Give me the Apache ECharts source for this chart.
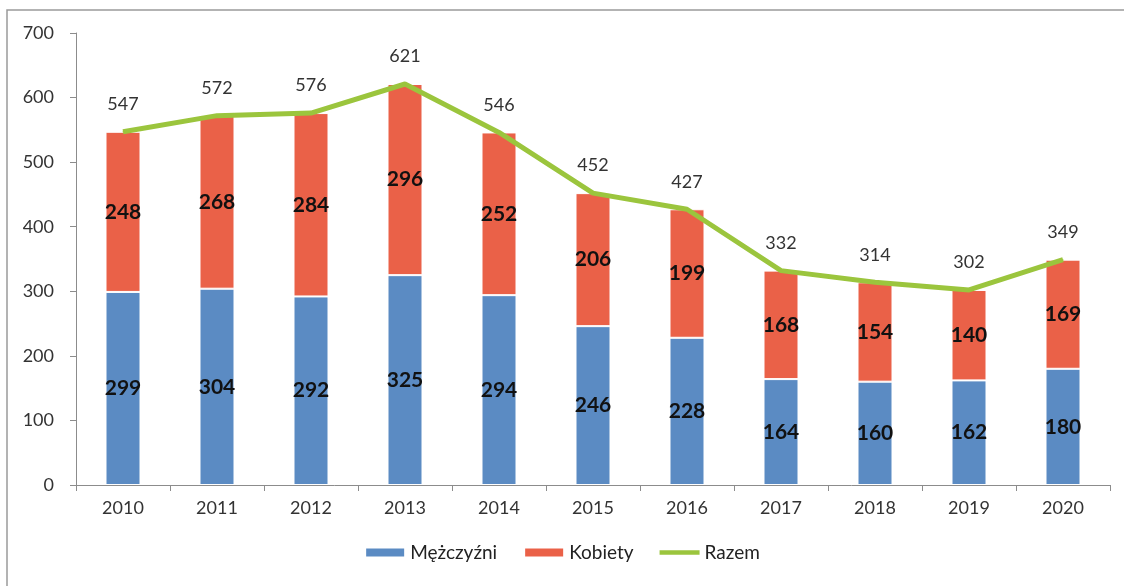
<!DOCTYPE html>
<html>
<head>
<meta charset="utf-8">
<script src="https://cdn.jsdelivr.net/npm/echarts@6/dist/echarts.min.js"></script>
<style>
html,body{margin:0;padding:0;background:#fff;}
#chart{width:1124px;height:586px;}
</style>
</head>
<body>
<div id="chart"></div>
<script>
const years = ['2010','2011','2012','2013','2014','2015','2016','2017','2018','2019','2020'];
const men = [299,304,292,325,294,246,228,164,160,162,180];
const women = [248,268,284,296,252,206,199,168,154,140,169];
const total = [547,572,576,621,546,452,427,332,314,302,349];
const yTicks = [0,100,200,300,400,500,600,700];

const FONT = 'Lato';
const chart = echarts.init(document.getElementById('chart'));
const barLabel = {
  show: true, position: 'inside', color: '#111', fontWeight: 'bold',
  fontSize: 21, fontFamily: FONT
};
chart.setOption({
  animation: false,
  backgroundColor: '#fff',
  graphic: [{
    type: 'rect', shape: { x: 7, y: 10, width: 1140, height: 600 },
    style: { fill: 'none', stroke: '#9a9a9a', lineWidth: 1.5 }, silent: true, z: -1
  }],
  grid: { left: 76, right: 14, top: 33, bottom: 101 },
  legend: {
    bottom: 19, left: 'center',
    itemWidth: 40, itemHeight: 10, itemGap: 26,
    textStyle: { fontFamily: FONT, fontSize: 19, color: '#222' },
    data: [
      { name: 'Mężczyźni', icon: 'rect' },
      { name: 'Kobiety', icon: 'rect' },
      { name: 'Razem', icon: 'path://M0,3 L40,3 L40,7.5 L0,7.5 Z' }
    ]
  },
  xAxis: {
    type: 'category', data: years, boundaryGap: true,
    axisLine: { lineStyle: { color: '#8c8c8c', width: 1 } },
    axisTick: { show: true, length: 6, lineStyle: { color: '#8c8c8c' } },
    axisLabel: { fontFamily: FONT, fontSize: 18, color: '#333', margin: 14 }
  },
  yAxis: {
    type: 'value', min: yTicks[0], max: yTicks[yTicks.length - 1], interval: 100,
    splitLine: { show: false },
    axisLine: { show: true, lineStyle: { color: '#8c8c8c', width: 1 } },
    axisTick: { show: true, length: 6, lineStyle: { color: '#8c8c8c' } },
    axisLabel: { fontFamily: FONT, fontSize: 18, color: '#333', margin: 22 }
  },
  series: [
    {
      name: 'Mężczyźni', type: 'bar', stack: 'a', data: men, barWidth: 35,
      itemStyle: { color: '#5b8bc3', borderColor: '#fff', borderWidth: 1 },
      label: barLabel
    },
    {
      name: 'Kobiety', type: 'bar', stack: 'a', data: women, barWidth: 35,
      itemStyle: { color: '#ea6148', borderColor: '#fff', borderWidth: 1 },
      label: barLabel
    },
    {
      name: 'Razem', type: 'line', data: total,
      symbol: 'circle', symbolSize: 1,
      lineStyle: { color: '#9bc53d', width: 5 },
      itemStyle: { color: '#9bc53d' },
      label: {
        show: true, position: 'top', distance: 18,
        fontFamily: FONT, fontSize: 18, color: '#333'
      },
      z: 5
    }
  ]
});
</script>
</body>
</html>
